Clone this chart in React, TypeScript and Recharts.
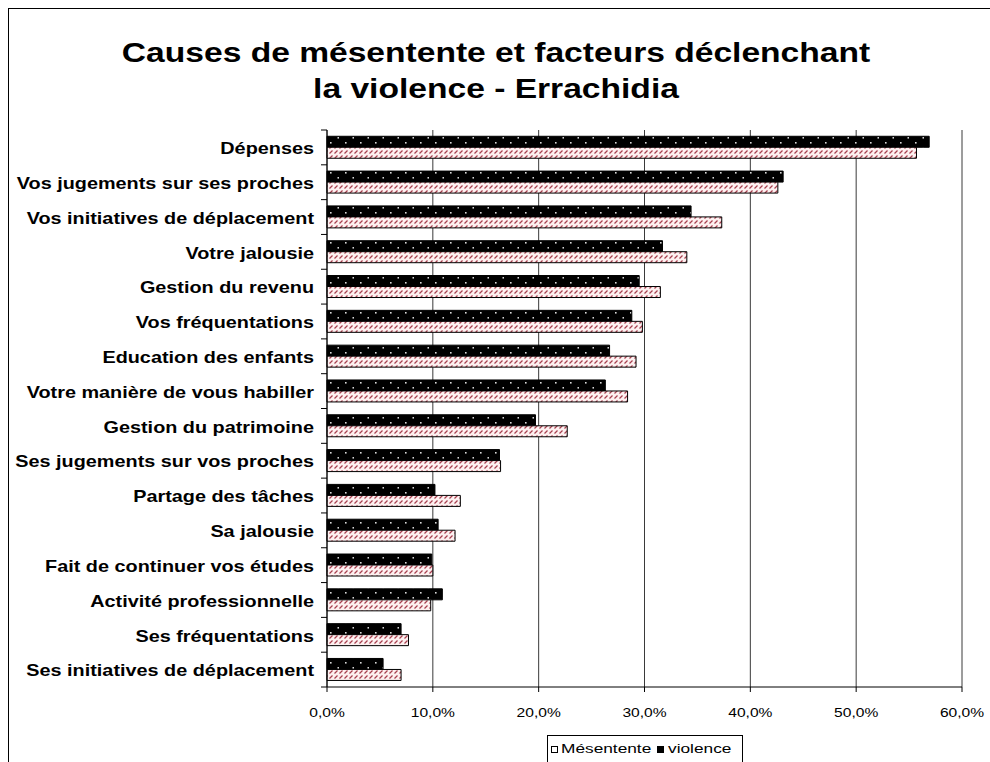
import { Bar, BarChart, CartesianGrid, Legend, XAxis, YAxis } from "recharts";

const categories = [
  "Dépenses",
  "Vos jugements sur ses proches",
  "Vos initiatives de déplacement",
  "Votre jalousie",
  "Gestion du revenu",
  "Vos fréquentations",
  "Education des enfants",
  "Votre manière de vous habiller",
  "Gestion du patrimoine",
  "Ses jugements sur vos proches",
  "Partage des tâches",
  "Sa jalousie",
  "Fait de continuer vos études",
  "Activité professionnelle",
  "Ses fréquentations",
  "Ses initiatives de déplacement",
];

const mesentente = [55.7, 42.6, 37.3, 34.0, 31.5, 29.8, 29.2, 28.4, 22.7, 16.4, 12.6, 12.1, 10.0, 9.8, 7.7, 7.0];
const violence = [56.9, 43.1, 34.4, 31.7, 29.5, 28.8, 26.7, 26.3, 19.7, 16.3, 10.2, 10.5, 9.9, 10.9, 7.0, 5.3];

const xTicks = [0, 10, 20, 30, 40, 50, 60];
const titleLines = ["Causes de mésentente et facteurs déclenchant", "la violence - Errachidia"];

const rows = categories.map((name, i) => ({
  name,
  mesentente: mesentente[i],
  violence: violence[i],
}));

const FONT = '"Liberation Sans", Arial, Helvetica, sans-serif';

function CategoryTick(props: any) {
  const { x, y, payload, index, visibleTicksCount } = props;
  const axisX = x + 13;
  const half = payload?.offset ?? 0;
  return (
    <g>
      <line x1={axisX - 6} x2={axisX} y1={y - half} y2={y - half} stroke="#000" />
      {index === visibleTicksCount - 1 && (
        <line x1={axisX - 6} x2={axisX} y1={y + half} y2={y + half} stroke="#000" />
      )}
      <g transform={`translate(${x},${y + 1})`}>
        <text
          transform="scale(1.24,1)"
          textAnchor="end"
          dy="0.36em"
          fontSize={16}
          fontWeight="bold"
          fontFamily={FONT}
          fill="#000"
        >
          {payload.value}
        </text>
      </g>
    </g>
  );
}

function PercentTick(props: any) {
  const { x, y, payload } = props;
  const label = Number(payload.value).toFixed(1).replace(".", ",") + "%";
  return (
    <g transform={`translate(${x},${y})`}>
      <text transform="scale(1.3,1)" textAnchor="middle" dy={23} fontSize={12} fontFamily={FONT} fill="#000">
        {label}
      </text>
    </g>
  );
}

function LegendBox() {
  return (
    <svg width={196} height={36} style={{ display: "block" }}>
      <rect x={0.5} y={0.5} width={195} height={40} fill="#fff" stroke="#000" />
      <rect x={4.5} y={11.5} width={6} height={6} fill="#fff" stroke="#000" />
      <g transform="translate(14,18)">
        <text transform="scale(1.33,1)" fontSize={13} fontFamily={FONT} fill="#000">
          Mésentente
        </text>
      </g>
      <rect x={110} y={11} width={7} height={7} fill="#000" />
      <g transform="translate(121,18)">
        <text transform="scale(1.33,1)" fontSize={13} fontFamily={FONT} fill="#000">
          violence
        </text>
      </g>
    </svg>
  );
}

export default function App() {
  return (
    <div
      style={{
        position: "fixed",
        left: 8,
        top: 8,
        width: 982,
        height: 754,
        borderLeft: "1px solid #000",
        borderTop: "1px solid #000",
        background: "#fff",
        overflow: "hidden",
        fontFamily: FONT,
      }}
    >
      <svg width={0} height={0} style={{ position: "absolute" }}>
        <defs>
          <pattern id="dotFill" width={15} height={10} patternUnits="userSpaceOnUse">
            <rect width={15} height={10} fill="#000" />
            <rect x={6} y={3} width={1.6} height={1.6} fill="#d8d8d8" />
            <rect x={13.5} y={8} width={1.6} height={1.6} fill="#d8d8d8" />
          </pattern>
          <pattern id="hatchFill" width={5} height={5} patternUnits="userSpaceOnUse">
            <rect width={5} height={5} fill="#fdf0f0" />
            <line x1={0.5} y1={4.5} x2={3.5} y2={1.5} stroke="#a8404f" strokeWidth={1.2} />
          </pattern>
        </defs>
      </svg>
      <svg width={981} height={110} style={{ position: "absolute", left: 0, top: 0 }}>
        {titleLines.map((line, i) => (
          <g key={line} transform={`translate(487,${53 + i * 36})`}>
            <text transform="scale(1.2,1)" textAnchor="middle" fontSize={28} fontWeight="bold" fontFamily={FONT} fill="#000">
              {line}
            </text>
          </g>
        ))}
      </svg>
      <BarChart
        width={981}
        height={753}
        data={rows}
        layout="vertical"
        margin={{ top: 121, right: 28, bottom: 45, left: 0 }}
        barCategoryGap="18%"
        barGap={0}
      >
        <CartesianGrid horizontal={false} stroke="#3a3a3a" />
        <XAxis
          type="number"
          domain={[0, 60]}
          ticks={xTicks}
          interval={0}
          axisLine={{ stroke: "#000" }}
          tickLine={{ stroke: "#000" }}
          tickSize={5}
          tick={<PercentTick />}
        />
        <XAxis
          xAxisId="top"
          orientation="top"
          type="number"
          domain={[0, 60]}
          height={0}
          tick={false}
          tickLine={false}
          axisLine={{ stroke: "#888" }}
        />
        <YAxis
          type="category"
          dataKey="name"
          width={318}
          interval={0}
          axisLine={{ stroke: "#000" }}
          tickLine={false}
          tickSize={6}
          tickMargin={7}
          tick={<CategoryTick />}
        />
        <YAxis
          yAxisId="right"
          orientation="right"
          type="category"
          dataKey="name"
          width={0}
          tick={false}
          tickLine={false}
          axisLine={{ stroke: "#888" }}
        />
        <Bar dataKey="violence" name="violence" fill="url(#dotFill)" stroke="#000" strokeWidth={1} isAnimationActive={false} />
        <Bar dataKey="mesentente" name="Mésentente" fill="url(#hatchFill)" stroke="#000" strokeWidth={1} isAnimationActive={false} />
        <Legend
          layout="vertical"
          verticalAlign="middle"
          align="center"
          content={<LegendBox />}
          wrapperStyle={{ left: 538, top: 726, width: 196, height: 36 }}
        />
      </BarChart>
    </div>
  );
}
